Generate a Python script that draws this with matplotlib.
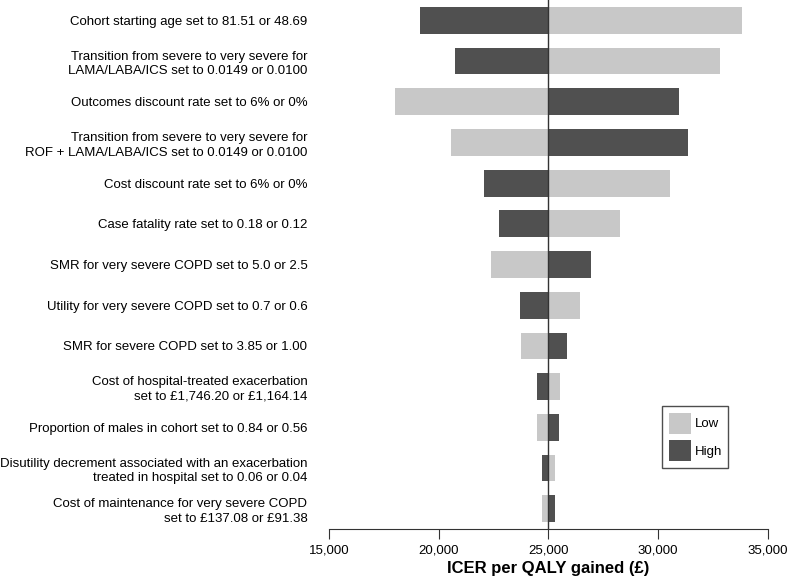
import matplotlib.pyplot as plt
from matplotlib.patches import Patch

plt.rcParams['font.family'] = ['Liberation Sans', 'DejaVu Sans']

labels = [
    "Cohort starting age set to 81.51 or 48.69",
    "Transition from severe to very severe for\nLAMA/LABA/ICS set to 0.0149 or 0.0100",
    "Outcomes discount rate set to 6% or 0%",
    "Transition from severe to very severe for\nROF + LAMA/LABA/ICS set to 0.0149 or 0.0100",
    "Cost discount rate set to 6% or 0%",
    "Case fatality rate set to 0.18 or 0.12",
    "SMR for very severe COPD set to 5.0 or 2.5",
    "Utility for very severe COPD set to 0.7 or 0.6",
    "SMR for severe COPD set to 3.85 or 1.00",
    "Cost of hospital-treated exacerbation\nset to \u00a31,746.20 or \u00a31,164.14",
    "Proportion of males in cohort set to 0.84 or 0.56",
    "Disutility decrement associated with an exacerbation\ntreated in hospital set to 0.06 or 0.04",
    "Cost of maintenance for very severe COPD\nset to \u00a3137.08 or \u00a391.38",
]
low = [33800, 32800, 18010, 20580, 30550, 28270, 22390, 26430, 23770, 25530, 24500, 25320, 24710]
high = [19150, 20760, 30930, 31340, 22070, 22740, 26930, 23710, 25840, 24470, 25500, 24700, 25290]
base = 25000
xticks = [15000, 20000, 25000, 30000, 35000]

light = '#c8c8c8'
dark = '#505050'

fig = plt.figure(figsize=(7.88, 5.77), dpi=100)
ax = fig.add_axes([0.4175, 0.083, 0.557, 0.917])

y = list(range(len(labels)))
ax.barh(y, [v - base for v in low], left=base, height=0.66, color=light)
ax.barh(y, [v - base for v in high], left=base, height=0.66, color=dark)
ax.axvline(base, color='#333333', linewidth=1)

ax.set_xlim(15000, 35000)
ax.set_ylim(len(labels) - 0.5, -0.5)
ax.set_yticks(y)
ax.set_yticklabels(labels, fontsize=9.5, multialignment='right', linespacing=1.3)
ax.set_xticks(xticks)
ax.set_xticklabels([f'{t:,}' for t in xticks], fontsize=9.5)
ax.tick_params(axis='y', left=False, pad=12)
ax.tick_params(axis='x', direction='out', length=7, color='#333333', pad=4)
for s in ['top', 'right', 'left']:
    ax.spines[s].set_visible(False)
ax.spines['bottom'].set_color('#333333')
ax.set_xlabel('ICER per QALY gained (\u00a3)', fontsize=12, fontweight='bold', labelpad=3)

handles = [Patch(facecolor=light, label='Low'), Patch(facecolor=dark, label='High')]
leg = ax.legend(handles=handles, loc='upper left', bbox_to_anchor=(0.7585, 0.2325),
                fontsize=9.5, frameon=True, fancybox=False, edgecolor='#222222',
                handlelength=1.67, handleheight=2.07, borderpad=0.5, labelspacing=0.48,
                handletextpad=0.3, borderaxespad=0)
leg.get_frame().set_linewidth(1)

fig.savefig('out.png', dpi=100)
